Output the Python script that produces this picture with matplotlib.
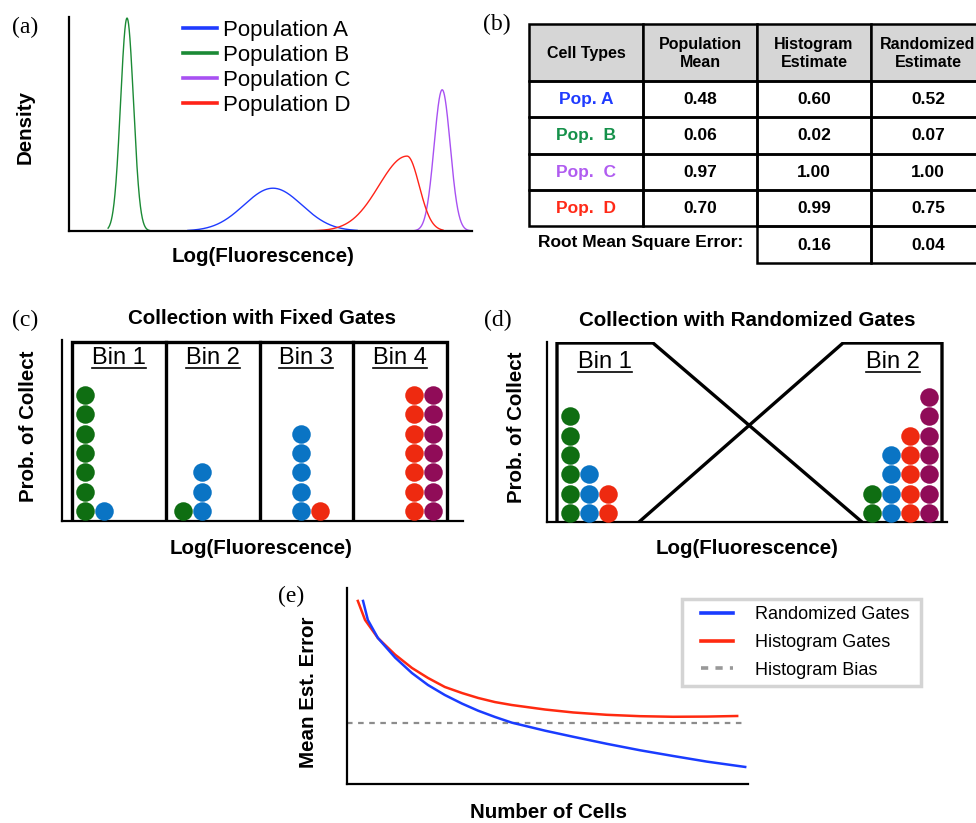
import matplotlib.pyplot as plt
from matplotlib.patches import Rectangle
from matplotlib.lines import Line2D
import numpy as np

plt.rcParams['font.family'] = ['Liberation Sans', 'DejaVu Sans']

W, H = 976, 823

# (a) population densities (centre, left / right spread, peak, drawn range)
pop_names = ['Population A', 'Population B', 'Population C', 'Population D']
pop_colors = ['#1f3bff', '#1b8a35', '#a851f2', '#ff2318']
pop_center = [0.506, 0.144, 0.926, 0.839]
pop_sd_left = [0.072, 0.016, 0.020, 0.070]
pop_sd_right = [0.072, 0.016, 0.020, 0.030]
pop_peak = [0.20, 0.995, 0.66, 0.35]
pop_lo = [0.295, 0.097, 0.804, 0.566]
pop_hi = [0.715, 0.201, 1.0, 0.928]

# (b) table
col_headers = ['Cell Types', 'Population\nMean', 'Histogram\nEstimate', 'Randomized\nEstimate']
cell_types = ['Pop. A', 'Pop.  B', 'Pop.  C', 'Pop.  D']
type_colors = ['#1f3bff', '#15914a', '#b05cf0', '#ff2a18']
pop_mean = [0.48, 0.06, 0.97, 0.70]
hist_est = [0.60, 0.02, 1.00, 0.99]
rand_est = [0.52, 0.07, 1.00, 0.75]
rmse = [0.16, 0.04]

# (c), (d) collected cells per bin, columns: green, blue, red, purple
dot_colors = ['#0f6e12', '#0a74c4', '#ee2a10', '#900c58']
fixed_bins = ['Bin 1', 'Bin 2', 'Bin 3', 'Bin 4']
fixed_counts = [[7, 1, 0, 0], [1, 3, 0, 0], [0, 5, 1, 0], [0, 0, 7, 7]]
rand_bins = ['Bin 1', 'Bin 2']
rand_counts = [[6, 3, 2, 0], [2, 4, 5, 7]]

# (e) mean estimation error vs number of cells
hist_x = [0.027, 0.045, 0.077, 0.120, 0.162, 0.202, 0.244, 0.287, 0.327, 0.369, 0.411,
          0.494, 0.564, 0.648, 0.731, 0.813, 0.898, 0.973]
hist_y = [0.934, 0.837, 0.745, 0.660, 0.592, 0.541, 0.495, 0.464, 0.439, 0.418, 0.403,
          0.380, 0.365, 0.353, 0.346, 0.343, 0.344, 0.347]
rand_x = [0.040, 0.052, 0.077, 0.120, 0.162, 0.202, 0.244, 0.287, 0.327, 0.369, 0.411,
          0.494, 0.564, 0.648, 0.731, 0.813, 0.898, 0.993]
rand_y = [0.934, 0.837, 0.745, 0.645, 0.566, 0.505, 0.454, 0.410, 0.374, 0.342, 0.313,
          0.272, 0.241, 0.205, 0.172, 0.143, 0.114, 0.087]
hist_bias = 0.311


def px(x, y):
    return x / W, 1 - y / H


def add_axes(x0, y0, x1, y1):
    ax = fig.add_axes([x0 / W, 1 - y1 / H, (x1 - x0) / W, (y1 - y0) / H])
    ax.spines[['top', 'right']].set_visible(False)
    ax.set_xticks([])
    ax.set_yticks([])
    ax.patch.set_alpha(0)
    for s in ['left', 'bottom']:
        ax.spines[s].set_linewidth(1.6)
    return ax


def label(x, y, s, **kw):
    kw.setdefault('fontsize', 14.8)
    kw.setdefault('fontweight', 'bold')
    fig.text(*px(x, y), s, ha='center', va='center', **kw)


def panel(x, y, s):
    fig.text(*px(x, y), s, ha='center', va='center', fontsize=17,
             family='Liberation Serif')


fig = plt.figure(figsize=(W / 100, H / 100), dpi=100)

# ---------------- (a)
ax = add_axes(69, 17, 472, 231)
for i in range(4):
    x = np.linspace(pop_lo[i], pop_hi[i], 400)
    sd = np.where(x < pop_center[i], pop_sd_left[i], pop_sd_right[i])
    y = pop_peak[i] * np.exp(-0.5 * ((x - pop_center[i]) / sd) ** 2)
    ax.plot(x, y, color=pop_colors[i], lw=1.0)
ax.set_xlim(0, 1)
ax.set_ylim(0, 1)
handles = [Line2D([], [], color=c, lw=2.6) for c in pop_colors]
ax.legend(handles, pop_names, loc='upper left', bbox_to_anchor=px(183, 20),
          bbox_transform=fig.transFigure, frameon=False, fontsize=16,
          borderpad=0, borderaxespad=0, handlelength=1.53, handletextpad=0.27,
          labelspacing=0.18)
panel(25, 27, '(a)')
label(25, 127, 'Density', rotation=90)
label(263, 257, 'Log(Fluorescence)')

# ---------------- (b)
tb = fig.add_axes([0, 0, 1, 1])
tb.set_xlim(0, W)
tb.set_ylim(H, 0)
tb.axis('off')
col_x = [529, 643, 757, 871, 985]
row_y = [24, 81, 117, 154, 190, 226, 263]
rows = [[cell_types[i], f'{pop_mean[i]:.2f}', f'{hist_est[i]:.2f}', f'{rand_est[i]:.2f}']
        for i in range(4)]
for j in range(4):
    tb.add_patch(Rectangle((col_x[j], row_y[0]), col_x[j + 1] - col_x[j], row_y[1] - row_y[0],
                           facecolor='#d6d6d6', edgecolor='black', lw=1.8))
    tb.text((col_x[j] + col_x[j + 1]) / 2, (row_y[0] + row_y[1]) / 2 + 1, col_headers[j],
            ha='center', va='center', fontsize=11.5, fontweight='bold', linespacing=1.3)
for i in range(4):
    for j in range(4):
        tb.add_patch(Rectangle((col_x[j], row_y[i + 1]), col_x[j + 1] - col_x[j],
                               row_y[i + 2] - row_y[i + 1], facecolor='none',
                               edgecolor='black', lw=1.8))
        tb.text((col_x[j] + col_x[j + 1]) / 2, (row_y[i + 1] + row_y[i + 2]) / 2, rows[i][j],
                ha='center', va='center', fontsize=12.5, fontweight='bold',
                color=type_colors[i] if j == 0 else 'black')
for j in range(2):
    tb.add_patch(Rectangle((col_x[j + 2], row_y[5]), col_x[j + 3] - col_x[j + 2],
                           row_y[6] - row_y[5], facecolor='none', edgecolor='black', lw=1.8))
    tb.text((col_x[j + 2] + col_x[j + 3]) / 2, (row_y[5] + row_y[6]) / 2 + 1, f'{rmse[j]:.2f}',
            ha='center', va='center', fontsize=12.5, fontweight='bold')
tb.text(641, 242, 'Root Mean Square Error:', ha='center', va='center',
        fontsize=12.5, fontweight='bold')
panel(497, 24, '(b)')

bin_texts = []

# ---------------- (c)
ax = add_axes(62, 340, 463, 521)
ax.set_xlim(-0.107, 4.17)
ax.set_ylim(0, 181 / 19.3)
top = 179 / 19.3
ax.plot([0, 0, 4, 4], [0, top, top, 0], color='black', lw=2.4, solid_joinstyle='miter')
for k in range(1, 4):
    ax.plot([k, k], [0, top], color='black', lw=2.4)
fixed_first = [0.14, 0.18, 0.44, 0.65]
for b in range(4):
    col = 0
    for p in range(4):
        n = fixed_counts[b][p]
        if n == 0:
            continue
        xs = [b + fixed_first[b] + 0.203 * col] * n
        ax.scatter(xs, 0.52 + np.arange(n), s=178, color=dot_colors[p], lw=0, zorder=3)
        col += 1
    bin_texts.append(ax.text(b + 0.5, (521 - 358) / 19.3, fixed_bins[b], ha='center',
                             va='center', fontsize=17))
panel(25, 320, '(c)')
label(262, 319, 'Collection with Fixed Gates')
label(29, 426, 'Prob. of Collect', rotation=90)
label(261, 548, 'Log(Fluorescence)')

# ---------------- (d)
ax = add_axes(547, 342, 947, 522)
ax.set_xlim(0, 1)
ax.set_ylim(0, 180 / 19.3)
top = 179 / 19.3
ax.plot([0.025, 0.025, 0.265, 0.7875], [0, top, top, 0], color='black', lw=2.4,
        solid_joinstyle='miter')
ax.plot([0.23, 0.74, 0.9875, 0.9875], [0, top, top, 0], color='black', lw=2.4,
        solid_joinstyle='miter')
rand_first = [0.0575, 0.8125]
bin_x = [0.145, 0.865]
for b in range(2):
    col = 0
    for p in range(4):
        n = rand_counts[b][p]
        if n == 0:
            continue
        xs = [rand_first[b] + 0.0475 * col] * n
        ax.scatter(xs, 0.47 + np.arange(n), s=178, color=dot_colors[p], lw=0, zorder=3)
        col += 1
    bin_texts.append(ax.text(bin_x[b], (522 - 362) / 19.3, rand_bins[b], ha='center',
                             va='center', fontsize=17))
panel(498, 320, '(d)')
label(747, 320, 'Collection with Randomized Gates')
label(517, 427, 'Prob. of Collect', rotation=90)
label(747, 548, 'Log(Fluorescence)')

# ---------------- (e)
ax = add_axes(347, 588, 748, 784)
ax.set_xlim(0, 1)
ax.set_ylim(0, 1)
ax.axhline(hist_bias, color='#8c8c8c', lw=1.6, dashes=(2.5, 2.5), xmax=0.993)
ax.plot(hist_x, hist_y, color='#ff2a10', lw=1.8)
ax.plot(rand_x, rand_y, color='#1a3cff', lw=1.8)
handles = [Line2D([], [], color='#1a3cff', lw=2.6),
           Line2D([], [], color='#ff2a10', lw=2.6),
           Line2D([], [], color='#999999', lw=2.6, dashes=(2, 2))]
ax.legend(handles, ['Randomized Gates', 'Histogram Gates', 'Histogram Bias'],
          loc='upper left', bbox_to_anchor=px(701, 606), bbox_transform=fig.transFigure,
          fontsize=13, frameon=False, borderpad=0, borderaxespad=0,
          handlelength=1.78, handletextpad=1.22, labelspacing=0.6)
x0, y1 = px(682, 599)
x1, y0 = px(921, 686)
fig.add_artist(Rectangle((x0, y0), x1 - x0, y1 - y0, transform=fig.transFigure,
                         facecolor='none', edgecolor='#d4d4d4', lw=2.5))
panel(291, 596, '(e)')
label(309, 692, 'Mean Est. Error', rotation=90)
label(548, 813, 'Number of Cells')

# underline the bin labels
fig.canvas.draw()
for t in bin_texts:
    bb = t.get_window_extent()
    y = bb.y0 + 1
    fig.add_artist(Line2D([bb.x0 / W, bb.x1 / W], [y / H, y / H], color='black', lw=1.2))

fig.savefig('out.png', dpi=100)
